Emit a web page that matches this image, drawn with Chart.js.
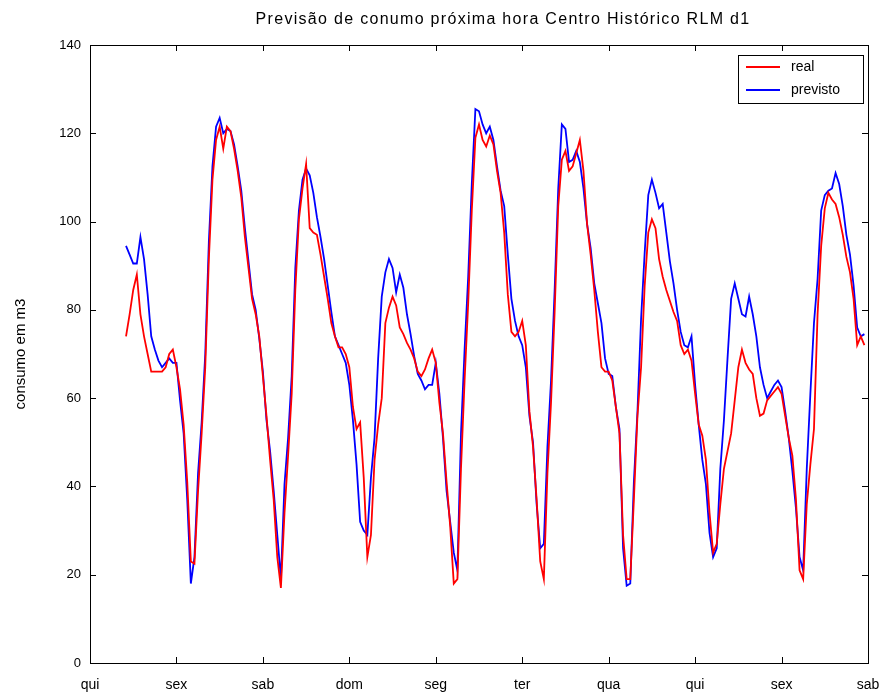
<!DOCTYPE html>
<html>
<head>
<meta charset="utf-8">
<title>Previsão de consumo</title>
<script src="https://cdn.jsdelivr.net/npm/chart.js@4.4.0/dist/chart.umd.min.js"></script>
<style>
  body { margin: 0; background: #fff; }
  #wrap { width: 885px; height: 693px; }
</style>
</head>
<body>
<div id="wrap"><canvas id="consumo" width="885" height="693"></canvas></div>
<script>
const titulo = 'Previsão de conumo próxima hora Centro Histórico RLM d1'
const rotuloY = 'consumo em m3'
const dias = ['qui', 'sex', 'sab', 'dom', 'seg', 'ter', 'qua', 'qui', 'sex', 'sab']
const valoresY = [0, 20, 40, 60, 80, 100, 120, 140]
const horaInicial = 10   // primeira medição: quinta, 10h

// consumo medido, uma leitura por hora
const real = [
    74, 79, 84.5, 88, 79, 74, 70, 66, 66, 66, 66, 67, 70, 71,
    67, 62, 54, 41, 23, 22.5, 39, 52, 67, 91.5, 109.5, 118.5, 121.5, 116.5, 121.5, 120.5, 116.5, 111.5, 105.5, 96.5, 89.5, 82.5, 79, 74,
    65, 56, 46, 37, 24, 17, 34, 47, 61, 84.5, 100.5, 107.5, 113, 98.5, 97.5, 97, 92.5, 87.5, 82.5, 77, 74, 71.5, 71.5, 70,
    67, 58, 53, 54.5, 42, 24, 29, 46, 54, 60, 77, 80.5, 83, 81, 76, 74.5, 72.5, 71, 69, 66, 65, 66.5, 69, 71,
    68, 59, 52, 41, 31, 18, 19, 44, 64, 81.5, 102.5, 119, 122, 118.5, 117, 119.5, 117.5, 111.5, 106.5, 97.5, 83.5, 75, 74, 75,
    77.5, 72, 57, 49, 37, 23, 19, 43, 59, 79.5, 103.5, 114, 116, 111.5, 112.5, 115.5, 118.5, 111.5, 99.5, 92.5, 84.5, 75, 67, 66,
    66, 64, 58, 52, 29, 19, 19, 37, 56, 67, 85.5, 97.5, 100.5, 98.5, 91.5, 87.5, 84.5, 82, 79.5, 77.5, 72, 70, 71, 68.5,
    61, 54, 51.5, 46, 34, 25, 27, 36, 44, 48, 52, 59.5, 67, 71, 68, 66.5, 65.5, 60, 56, 56.5, 59.5, 60.5, 61.5, 62.5,
    61, 56, 51, 47, 37, 21, 19, 36, 45, 53, 79, 94.5, 103, 106.5, 105, 104, 101, 97, 92, 88.5, 82.5, 72, 74, 72
]

// previsão para a hora seguinte
const previsto = [
    94.5, 92.5, 90.5, 90.5, 96.5, 91.5, 83.5, 74, 71, 68.5, 67, 68, 69, 68,
    68, 59.5, 52, 37, 18, 24, 43, 54.5, 70, 95.5, 112.5, 121.5, 123.5, 120, 121, 120.5, 117.5, 112.5, 107, 98.5, 91, 83.5, 80, 73.5,
    66, 55, 48, 39, 29, 19, 40.5, 51, 65, 89.5, 102.5, 109.5, 112, 110.5, 106.5, 101, 96.5, 91.5, 85.5, 79.5, 74, 72, 70, 68,
    63, 55, 45, 32, 30, 29, 42, 51, 69, 83, 88.5, 91.5, 89.5, 84, 88, 85, 79, 74.5, 69.5, 65.5, 64, 62, 63, 63,
    68, 61, 51, 39, 32, 25, 21, 52, 71, 87.5, 108.5, 125.5, 125, 122, 120, 121.5, 118.5, 112.5, 107, 103.5, 92.5, 82.5, 77.5, 74,
    72, 67, 56, 50, 36, 26, 27, 49, 64, 84.5, 107.5, 122, 121, 113.5, 114, 116, 113.5, 107.5, 99.5, 94, 86, 81.5, 77, 69,
    65.5, 65, 58, 53, 26, 17.5, 18, 41, 57, 78, 93, 106, 109.5, 106.5, 103, 104, 97.5, 91, 86, 80, 75, 72, 71.5, 74,
    63, 54, 46, 40.5, 29.5, 24, 26, 44, 55, 69, 82.5, 86, 82.5, 79, 78.5, 83, 79, 74, 67, 63, 60, 61.5, 63, 64,
    62.5, 57, 51, 43.5, 35, 24, 21, 44, 61, 77, 87, 102.5, 106, 107, 107.5, 111, 108.5, 103.5, 97, 92.5, 85.5, 76, 74, 74.5
]

const fonte = { family: "'Liberation Sans', Arial, sans-serif", size: 13 }

function pontos(serie) {
    return serie.map((v, i) => ({ x: horaInicial + i, y: v }))
}

// caixa do eixo com marcas voltadas para dentro (topo/base e esquerda/direita)
const moldura = {
    id: 'moldura',
    afterDatasetsDraw(chart) {
        const { ctx, chartArea: a, scales } = chart
        const t = 6
        ctx.save()
        ctx.strokeStyle = '#000'
        ctx.lineWidth = 1
        ctx.beginPath()
        scales.x.ticks.forEach(tk => {
            const px = Math.round(scales.x.getPixelForValue(tk.value)) + 0.5
            ctx.moveTo(px, a.bottom); ctx.lineTo(px, a.bottom - t)
            ctx.moveTo(px, a.top); ctx.lineTo(px, a.top + t)
        })
        scales.y.ticks.forEach(tk => {
            const py = Math.round(scales.y.getPixelForValue(tk.value)) + 0.5
            ctx.moveTo(a.left, py); ctx.lineTo(a.left + t, py)
            ctx.moveTo(a.right, py); ctx.lineTo(a.right - t, py)
        })
        ctx.stroke()
        ctx.strokeRect(Math.round(a.left) + 0.5, Math.round(a.top) + 0.5,
            Math.round(a.right - a.left), Math.round(a.bottom - a.top))
        ctx.restore()
    }
}

// título e legenda no estilo da figura original
const anotacoes = {
    id: 'anotacoes',
    afterDraw(chart) {
        const { ctx, chartArea: a } = chart
        ctx.save()
        ctx.fillStyle = '#000'
        ctx.font = "16px 'Liberation Sans', Arial, sans-serif"
        ctx.letterSpacing = '1.3px'
        ctx.textAlign = 'center'
        ctx.textBaseline = 'middle'
        ctx.fillText(titulo, 503, 20)
        ctx.letterSpacing = '0px'

        const w = 125, h = 48
        const lx = a.right - w - 5, ly = a.top + 10
        ctx.fillStyle = '#fff'
        ctx.fillRect(lx, ly, w, h)
        ctx.strokeStyle = '#000'
        ctx.lineWidth = 1
        ctx.strokeRect(lx + 0.5, ly + 0.5, w, h)
        ctx.font = "14px 'Liberation Sans', Arial, sans-serif"
        ctx.textAlign = 'left'
        chart.data.datasets.forEach((ds, i) => {
            const yy = ly + 12 + i * 23
            ctx.strokeStyle = ds.borderColor
            ctx.lineWidth = 1.8
            ctx.beginPath()
            ctx.moveTo(lx + 8, yy); ctx.lineTo(lx + 42, yy)
            ctx.stroke()
            ctx.fillStyle = '#000'
            ctx.fillText(ds.label, lx + 53, yy)
        })
        ctx.restore()
    }
}

new Chart(document.getElementById('consumo'), {
    type: 'line',
    data: {
        datasets: [
            { label: 'real', data: pontos(real), borderColor: 'rgb(255, 0, 0)' },
            { label: 'previsto', data: pontos(previsto), borderColor: 'rgb(0, 0, 255)' }
        ]
    },
    options: {
        responsive: false,
        animation: false,
        layout: { padding: { top: 45, right: 17, left: 0, bottom: 0 } },
        elements: {
            point: { radius: 0 },
            line: { borderWidth: 1.8, tension: 0 }
        },
        plugins: {
            legend: { display: false },
            title: { display: false },
            tooltip: { enabled: false }
        },
        scales: {
            x: {
                type: 'linear',
                min: 0,
                max: dias.length * 24 - 24,
                afterBuildTicks: s => { s.ticks = dias.map((d, i) => ({ value: i * 24 })) },
                afterFit: s => {
                    s.height = 30
                    s.paddingLeft = 0
                    s.paddingRight = 0
                },
                ticks: {
                    autoSkip: false,
                    maxRotation: 0,
                    padding: 14,
                    color: '#000',
                    font: { ...fonte, size: 14 },
                    callback: v => dias[Math.round(v / 24)]
                },
                grid: { display: false, drawTicks: false },
                border: { display: false }
            },
            y: {
                min: 0,
                max: 140,
                afterBuildTicks: s => { s.ticks = valoresY.map(v => ({ value: v })) },
                afterFit: s => { s.width = 90 },
                ticks: { padding: 9, color: '#000', font: fonte },
                grid: { display: false, drawTicks: false },
                border: { display: false },
                title: {
                    display: true,
                    text: rotuloY,
                    color: '#000',
                    font: { ...fonte, size: 15 },
                    padding: { top: 12, bottom: 4 }
                }
            }
        }
    },
    plugins: [moldura, anotacoes]
})
</script>
</body>
</html>
